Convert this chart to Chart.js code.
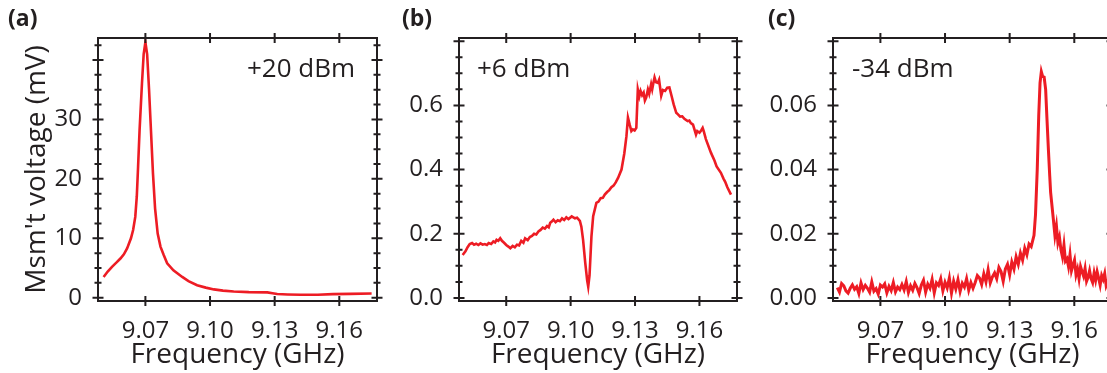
<!DOCTYPE html>
<html>
<head>
<meta charset="utf-8">
<script src="https://cdn.jsdelivr.net/npm/chart.js@4.4.1/dist/chart.umd.min.js"></script>
<style>
  html, body { margin: 0; padding: 0; background: #fff; overflow: hidden; width: 1107px; height: 373px; }
  canvas { position: absolute; top: 0; }
</style>
</head>
<body>
<canvas id="chartA" width="392" height="373" style="left:0px"></canvas>
<canvas id="chartB" width="360" height="373" style="left:392px"></canvas>
<canvas id="chartC" width="375" height="373" style="left:755px"></canvas>
<script>
  // shared x axis ticks (GHz)
  const xTickVals = [9.07, 9.10, 9.13, 9.16];
  const xTickLabels = ['9.07', '9.10', '9.13', '9.16'];

  // (a) +20 dBm
  const freqA = [9.0506, 9.0525, 9.0545, 9.0565, 9.0584, 9.0600, 9.0615, 9.0633, 9.0643, 9.0653, 9.0660, 9.0666,
    9.0673, 9.0684, 9.0692, 9.0700, 9.0708, 9.0717, 9.0726, 9.0735, 9.0745, 9.0757, 9.0770, 9.0785, 9.0801,
    9.0830, 9.0871, 9.0900, 9.0940, 9.0980, 9.1018, 9.1060, 9.1110, 9.1180, 9.1266, 9.1290, 9.1312, 9.1360,
    9.1420, 9.1500, 9.1570, 9.1650, 9.1750];
  const voltA = [3.5, 4.4, 5.2, 5.9, 6.6, 7.3, 8.3, 10.0, 11.4, 13.6, 17.0, 22.0,
    28.2, 36.0, 41.0, 43.0, 41.0, 35.0, 28.0, 21.0, 15.0, 10.8, 8.6, 7.2, 5.8,
    4.6, 3.5, 2.8, 2.1, 1.7, 1.4, 1.2, 1.05, 0.95, 0.9, 0.75, 0.62, 0.55,
    0.5, 0.5, 0.6, 0.65, 0.7];
  const yTicksA = [0, 10, 20, 30];

  // (b) +6 dBm
  const freqB = [9.0497, 9.0510, 9.0520, 9.0530, 9.0541, 9.0550, 9.0560, 9.0570, 9.0580, 9.0590, 9.0600, 9.0610,
    9.0618, 9.0630, 9.0640, 9.0648, 9.0655, 9.0663, 9.0672, 9.0680, 9.0690, 9.0700, 9.0710, 9.0719, 9.0730,
    9.0740, 9.0750, 9.0760, 9.0770, 9.0780, 9.0788, 9.0800, 9.0810, 9.0820, 9.0830, 9.0840, 9.0850, 9.0860,
    9.0870, 9.0880, 9.0890, 9.0898, 9.0905, 9.0912, 9.0920, 9.0930, 9.0940, 9.0950, 9.0960, 9.0970, 9.0980,
    9.0990, 9.1005, 9.1020, 9.1030, 9.1043, 9.1050, 9.1058, 9.1068, 9.1077, 9.1082, 9.1088, 9.1097, 9.1105,
    9.1120, 9.1130, 9.1140, 9.1150, 9.1159, 9.1170, 9.1180, 9.1190, 9.1200, 9.1210, 9.1221, 9.1237, 9.1250,
    9.1260, 9.1267, 9.1275, 9.1283, 9.1290, 9.1298, 9.1306, 9.1313, 9.1320, 9.1326, 9.1333, 9.1340, 9.1346,
    9.1352, 9.1360, 9.1366, 9.1375, 9.1380, 9.1385, 9.1391, 9.1398, 9.1406, 9.1412, 9.1422, 9.1430, 9.1440,
    9.1450, 9.1460, 9.1470, 9.1480, 9.1492, 9.1500, 9.1510, 9.1520, 9.1530, 9.1545, 9.1553, 9.1560, 9.1570,
    9.1584, 9.1590, 9.1600, 9.1608, 9.1615, 9.1620, 9.1630, 9.1654, 9.1670, 9.1680, 9.1700, 9.1712, 9.1720,
    9.1730, 9.1747];
  const voltB = [0.134, 0.145, 0.158, 0.168, 0.171, 0.166, 0.169, 0.165, 0.170, 0.166, 0.168, 0.165,
    0.171, 0.168, 0.176, 0.173, 0.181, 0.178, 0.186, 0.178, 0.172, 0.165, 0.160, 0.155, 0.162,
    0.158, 0.166, 0.164, 0.178, 0.172, 0.186, 0.180, 0.190, 0.193, 0.200, 0.198, 0.207, 0.212,
    0.219, 0.216, 0.224, 0.220, 0.234, 0.238, 0.244, 0.236, 0.242, 0.239, 0.248, 0.243, 0.251,
    0.246, 0.254, 0.248, 0.250, 0.240, 0.222, 0.181, 0.110, 0.055, 0.035, 0.070, 0.192, 0.255,
    0.296, 0.300, 0.311, 0.312, 0.322, 0.330, 0.336, 0.345, 0.350, 0.360, 0.374, 0.400, 0.450,
    0.504, 0.562, 0.540, 0.520, 0.525, 0.522, 0.530, 0.650, 0.628, 0.645, 0.632, 0.640, 0.615,
    0.624, 0.650, 0.636, 0.666, 0.650, 0.668, 0.687, 0.672, 0.670, 0.680, 0.630, 0.648, 0.645,
    0.655, 0.656, 0.630, 0.603, 0.577, 0.572, 0.565, 0.566, 0.558, 0.551, 0.553, 0.545, 0.540,
    0.509, 0.520, 0.515, 0.522, 0.530, 0.520, 0.495, 0.452, 0.428, 0.410, 0.390, 0.372, 0.362,
    0.345, 0.322];
  const yTicksB = [0, 0.2, 0.4, 0.6];

  // (c) -34 dBm
  const freqC = [9.050, 9.051, 9.052, 9.053, 9.054, 9.055, 9.056, 9.057, 9.058, 9.059, 9.060, 9.061, 9.062,
    9.063, 9.064, 9.065, 9.066, 9.067, 9.068, 9.069, 9.070, 9.071, 9.072, 9.073, 9.074, 9.075, 9.076, 9.077,
    9.078, 9.079, 9.080, 9.081, 9.082, 9.083, 9.084, 9.085, 9.086, 9.087, 9.088, 9.089, 9.090, 9.091, 9.092,
    9.093, 9.094, 9.095, 9.096, 9.097, 9.098, 9.099, 9.100, 9.101, 9.102, 9.103, 9.104, 9.105, 9.106, 9.107,
    9.108, 9.109, 9.110, 9.111, 9.112, 9.113, 9.114, 9.115, 9.116, 9.117, 9.118, 9.119, 9.120, 9.121, 9.122,
    9.123, 9.124, 9.125, 9.126, 9.127, 9.128, 9.129, 9.130, 9.131, 9.132, 9.133, 9.134, 9.135, 9.136, 9.137,
    9.138, 9.139, 9.140, 9.1413, 9.1420, 9.1428, 9.1435, 9.1441, 9.1447, 9.1453, 9.1460, 9.1467, 9.1473,
    9.1480, 9.1486, 9.1490, 9.1502, 9.1510, 9.1517, 9.1524, 9.1531, 9.1538, 9.1545, 9.1552, 9.1559, 9.1566,
    9.1573, 9.1580, 9.1587, 9.1594, 9.1601, 9.1608, 9.1615, 9.1622, 9.1629, 9.1636, 9.1643, 9.1650, 9.1657,
    9.1664, 9.1671, 9.1678, 9.1685, 9.1692, 9.1699, 9.1706, 9.1713, 9.1720, 9.1727, 9.1734, 9.1741, 9.1748,
    9.1755, 9.1762, 9.1770, 9.1778];
  const voltC = [0.0032, 0.0018, 0.0045, 0.0038, 0.0022, 0.0015, 0.0030, 0.0041, 0.0027, 0.0035, 0.0014, 0.0047, 0.0026,
    0.0039, 0.0030, 0.0018, 0.0050, 0.0021, 0.0029, 0.0012, 0.0040, 0.0034, 0.0044, 0.0016, 0.0036, 0.0023, 0.0048, 0.0019,
    0.0034, 0.0026, 0.0042, 0.0025, 0.0051, 0.0017, 0.0038, 0.0024, 0.0045, 0.0032, 0.0014, 0.0040, 0.0055, 0.0018, 0.0043,
    0.0030, 0.0058, 0.0016, 0.0047, 0.0039, 0.0060, 0.0022, 0.0049, 0.0031, 0.0062, 0.0015, 0.0052, 0.0028, 0.0057, 0.0020,
    0.0046, 0.0034, 0.0060, 0.0024, 0.0048, 0.0030, 0.0048, 0.0070, 0.0062, 0.0042, 0.0075, 0.0050, 0.0088, 0.0047, 0.0066,
    0.0078, 0.0060, 0.0095, 0.0082, 0.0052, 0.0090, 0.0105, 0.0072, 0.0112, 0.0090, 0.0128, 0.0105, 0.0140, 0.0118, 0.0155,
    0.0135, 0.0168, 0.0160, 0.0195, 0.0260, 0.0400, 0.0570, 0.0670, 0.0705, 0.0690, 0.0688, 0.0650, 0.0560,
    0.0460, 0.0380, 0.0330, 0.0250, 0.0195, 0.0225, 0.0172, 0.0190, 0.0150, 0.0128, 0.0165, 0.0115, 0.0122,
    0.0098, 0.0135, 0.0085, 0.0102, 0.0118, 0.0072, 0.0090, 0.0060, 0.0098, 0.0082, 0.0068, 0.0092, 0.0052,
    0.0064, 0.0085, 0.0060, 0.0048, 0.0078, 0.0055, 0.0082, 0.0062, 0.0040, 0.0070, 0.0058, 0.0076, 0.0038,
    0.0050, 0.0066, 0.0044, 0.0060];
  const yTicksC = [0, 0.02, 0.04, 0.06];

  const ink = '#231f20';
  const red = '#ed1c24';
  const font = "'Open Sans', sans-serif";

  // frame with ticks crossing the axis lines, plus panel letter and power text
  const framePlugin = {
    id: 'frame',
    afterDatasetsDraw(chart, args, o) {
      const { ctx, chartArea: a, scales: { x, y } } = chart;
      ctx.save();
      ctx.strokeStyle = ink;
      ctx.lineWidth = 2;
      ctx.strokeRect(a.left, a.top, a.right - a.left, a.bottom - a.top);
      ctx.beginPath();
      xTickVals.forEach(v => {
        const px = x.getPixelForValue(v);
        ctx.moveTo(px, a.bottom - 5); ctx.lineTo(px, a.bottom + 5);
        ctx.moveTo(px, a.top - 5); ctx.lineTo(px, a.top + 5);
      });
      for (let i = 0; i * o.minor <= o.yTop + 1e-9; i++) {
        const py = y.getPixelForValue(i * o.minor);
        const len = (i % o.perMajor === 0) ? 5.5 : 3.5;
        ctx.moveTo(a.left - len, py); ctx.lineTo(a.left + len, py);
        ctx.moveTo(a.right - len, py); ctx.lineTo(a.right + len, py);
      }
      ctx.stroke();
      ctx.fillStyle = ink;
      ctx.textBaseline = 'alphabetic';
      ctx.font = "bold 23px " + font;
      ctx.fillText(o.letter, o.letterX, 26);
      ctx.font = "26px " + font;
      ctx.fillText(o.power, o.powerX, 77);
      ctx.restore();
    }
  };

  function makeChart(id, freq, volt, yMin, yMax, yTicks, yFmt, opts) {
    return new Chart(document.getElementById(id), {
      type: 'line',
      data: {
        datasets: [{
          data: freq.map((f, i) => ({ x: f, y: volt[i] })),
          borderColor: red,
          borderWidth: opts.lineWidth,
          pointRadius: 0,
          tension: 0,
          fill: false
        }]
      },
      options: {
        responsive: false,
        animation: false,
        events: [],
        layout: { padding: { top: 38, right: opts.padRight, bottom: 0, left: 0 } },
        plugins: { legend: { display: false }, tooltip: { enabled: false }, frame: opts.frame },
        scales: {
          x: {
            type: 'linear', min: 9.048, max: 9.1775,
            grid: { display: false }, border: { display: false },
            afterBuildTicks: s => { s.ticks = xTickVals.map(v => ({ value: v })); },
            afterFit: s => { s.height = 72; },
            ticks: {
              autoSkip: false, maxRotation: 0, padding: 8, color: ink,
              font: { family: font, size: 24 },
              callback: (v, i) => xTickLabels[i]
            },
            title: {
              display: true, text: 'Frequency (GHz)', color: ink,
              font: { family: font, size: 28 }, padding: { top: 0, bottom: 1 }
            }
          },
          y: {
            min: yMin, max: yMax,
            grid: { display: false }, border: { display: false },
            afterBuildTicks: s => { s.ticks = yTicks.map(v => ({ value: v })); },
            afterFit: s => { s.width = opts.yWidth; },
            ticks: {
              autoSkip: false, padding: 8, color: ink,
              font: { family: font, size: 24 },
              callback: v => yFmt(v)
            },
            title: {
              display: !!opts.yTitle, text: opts.yTitle || '', color: ink,
              font: { family: font, size: 28 }, padding: { top: 20, bottom: 0 }
            }
          }
        }
      },
      plugins: [framePlugin]
    });
  }

  makeChart('chartA', freqA, voltA, -0.55, 43.7, yTicksA, v => v.toFixed(0), {
    padRight: 15, yWidth: 98, lineWidth: 2.6, yTitle: "Msm't voltage (mV)",
    frame: { minor: 2.5, perMajor: 4, yTop: 42.5, letter: '(a)', letterX: 8, power: '+20 dBm', powerX: 247 }
  });
  makeChart('chartB', freqB, voltB, -0.0095, 0.81, yTicksB, v => v.toFixed(1), {
    padRight: 15, yWidth: 67, lineWidth: 2.6,
    frame: { minor: 0.05, perMajor: 4, yTop: 0.8, letter: '(b)', letterX: 10, power: '+6 dBm', powerX: 85 }
  });
  makeChart('chartC', freqC, voltC, -0.00095, 0.081, yTicksC, v => v.toFixed(2), {
    padRight: 18, yWidth: 78, lineWidth: 3,
    frame: { minor: 0.005, perMajor: 4, yTop: 0.08, letter: '(c)', letterX: 13, power: '-34 dBm', powerX: 97 }
  });
</script>
</body>
</html>
